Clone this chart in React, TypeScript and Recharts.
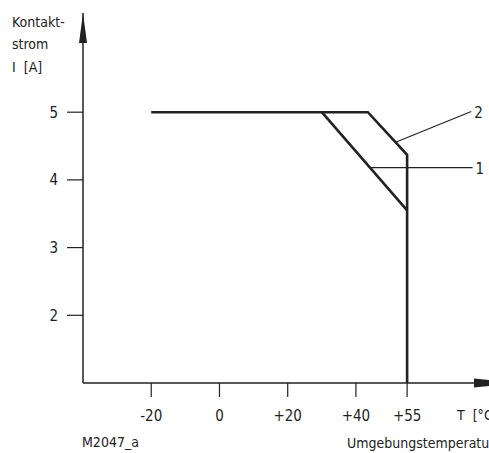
import React from "react";
import { LineChart, Line, XAxis, YAxis, ReferenceDot } from "recharts";

// Kurve 2 (obere Grenze) und Kurve 1
const curve2Temp = [-20, 43.5, 55, 55];
const curve2Amp = [5, 5, 4.37, 1];
const curve1Temp = [30, 55];
const curve1Amp = [5, 3.55];

// Bezugslinien zu den Kurvennummern
const leader2Temp = [51.8, 73.8];
const leader2Amp = [4.56, 5.01];
const leader1Temp = [44, 74.2];
const leader1Amp = [4.18, 4.18];
const curveNames = ["2", "1"];

const xTicks = [-20, 0, 20, 40, 55];
const yTicks = [2, 3, 4, 5];
const xDomain = [-40, 79];
const yDomain = [1, 6.465];

const FONT = "'Liberation Sans Narrow', 'DejaVu Sans Condensed', 'Roboto Condensed', sans-serif";
const INK = "#222";
const FS = 14;

const toPoints = (t: number[], a: number[]) => t.map((x, i) => ({ t: x, a: a[i] }));

const curve2 = toPoints(curve2Temp, curve2Amp);
const curve1 = toPoints(curve1Temp, curve1Amp);
const leader2 = toPoints(leader2Temp, leader2Amp);
const leader1 = toPoints(leader1Temp, leader1Amp);

const fmtX = (v: number) => (v > 0 ? `+${v}` : `${v}`);

const labelDot = (name: string) => (props: any) => {
  const { cx, cy, index } = props;
  if (index !== 1) return <g key={`d-${name}-${index}`} />;
  return (
    <text
      key={`d-${name}-${index}`}
      x={cx + 3}
      y={cy + 6}
      fontFamily={FONT}
      fontSize={FS + 1}
      fill={INK}
    >
      {name}
    </text>
  );
};

const upArrow = (props: any) => {
  const { cx, cy } = props;
  return <polygon points={`${cx},${cy} ${cx + 4},${cy + 30} ${cx - 4},${cy + 30}`} fill={INK} />;
};

const rightArrow = (props: any) => {
  const { cx, cy } = props;
  return <polygon points={`${cx - 15},${cy - 4.5} ${cx},${cy - 3} ${cx},${cy + 3} ${cx - 15},${cy + 4.5}`} fill={INK} />;
};

const textStyle: React.CSSProperties = {
  position: "absolute",
  fontFamily: FONT,
  fontSize: FS,
  color: INK,
  whiteSpace: "nowrap",
  lineHeight: "15px",
};

export default function App() {
  return (
    <div style={{ position: "absolute", left: 0, top: 0, width: 489, height: 453, overflow: "hidden", background: "#fff" }}>
      <LineChart width={489} height={453} margin={{ top: 13, right: 0, left: 0, bottom: 0 }}>
        <XAxis
          type="number"
          dataKey="t"
          domain={xDomain}
          ticks={xTicks}
          tickFormatter={fmtX}
          allowDataOverflow
          height={70}
          tickSize={14}
          tickMargin={13}
          axisLine={{ stroke: INK, strokeWidth: 1.5 }}
          tickLine={{ stroke: INK, strokeWidth: 1.2 }}
          tick={{ fill: INK, fontFamily: FONT, fontSize: FS + 1 }}
        />
        <YAxis
          type="number"
          dataKey="a"
          domain={yDomain}
          ticks={yTicks}
          allowDataOverflow
          width={83}
          tickSize={16}
          tickMargin={9}
          axisLine={{ stroke: INK, strokeWidth: 1.5 }}
          tickLine={{ stroke: INK, strokeWidth: 1.2 }}
          tick={{ fill: INK, fontFamily: FONT, fontSize: FS + 1 }}
        />
        <Line data={curve2} dataKey="a" stroke={INK} strokeWidth={2.6} dot={false} isAnimationActive={false} strokeLinejoin="miter" />
        <Line data={curve1} dataKey="a" stroke={INK} strokeWidth={2.6} dot={false} isAnimationActive={false} />
        <Line data={leader2} dataKey="a" stroke={INK} strokeWidth={1.2} dot={labelDot(curveNames[0])} isAnimationActive={false} />
        <Line data={leader1} dataKey="a" stroke={INK} strokeWidth={1.2} dot={labelDot(curveNames[1])} isAnimationActive={false} />
        <ReferenceDot x={xDomain[0]} y={yDomain[1]} shape={upArrow} ifOverflow="visible" />
        <ReferenceDot x={xDomain[1]} y={yDomain[0]} shape={rightArrow} ifOverflow="visible" />
      </LineChart>
      <div style={{ ...textStyle, left: 12, top: 15 }}>Kontakt-</div>
      <div style={{ ...textStyle, left: 12, top: 37 }}>strom</div>
      <div style={{ ...textStyle, left: 12, top: 60 }}>I&nbsp;&nbsp;[A]</div>
      <div style={{ ...textStyle, left: 457, top: 408 }}>T&nbsp;&nbsp;[°C]</div>
      <div style={{ ...textStyle, left: 82, top: 435 }}>M2047_a</div>
      <div style={{ ...textStyle, left: 347, top: 436 }}>Umgebungstemperatur</div>
    </div>
  );
}
